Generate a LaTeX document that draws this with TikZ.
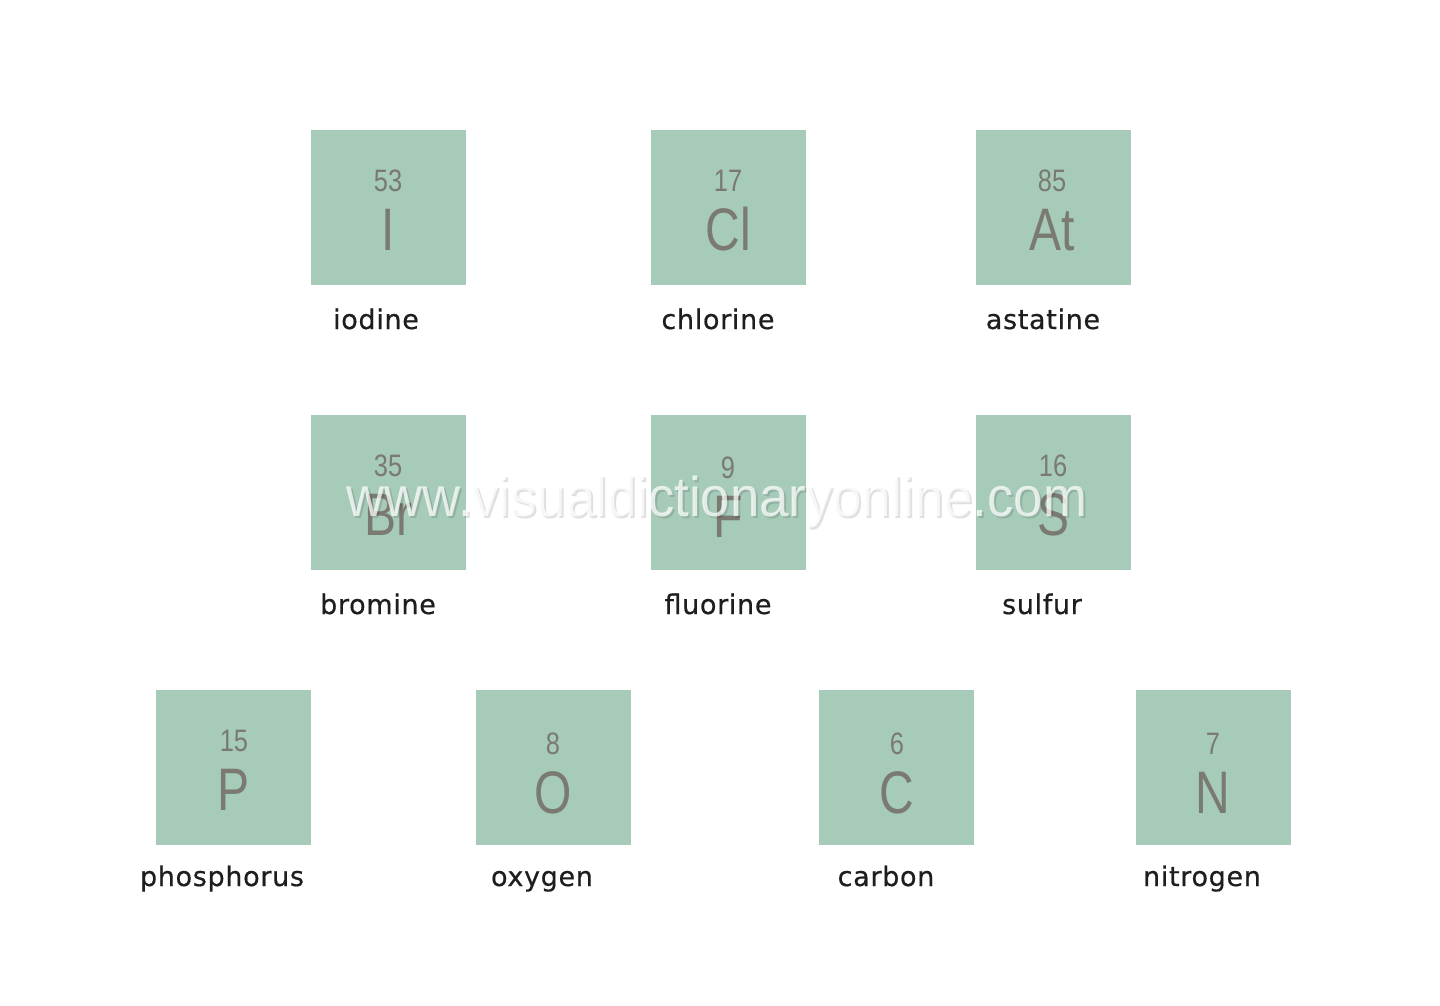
\documentclass[tikz,border=0pt]{standalone}
\usepackage{fontspec}
\setmainfont{DejaVu Sans}
\newfontfamily\labelfont[LetterSpace=2.5,FakeBold=0.5]{DejaVu Sans}
\newfontfamily\symfont{Liberation Sans}
\definecolor{boxgreen}{HTML}{A6CBB8}
\definecolor{symgray}{HTML}{7A7A72}
\definecolor{labelgray}{HTML}{1E1E1E}
\begin{document}
\begin{tikzpicture}[x=1pt,y=-1pt,
  elembox/.style={fill=boxgreen,draw=none,minimum width=155pt,minimum height=155pt,inner sep=0pt},
  elemnum/.style={text=symgray,font=\symfont\fontsize{31}{31}\selectfont,xscale=0.82,anchor=base},
  elemsym/.style={text=symgray,font=\symfont\fontsize{60}{60}\selectfont,xscale=0.8,anchor=base},
  elemlabel/.style={text=labelgray,font=\labelfont\fontsize{27}{27}\selectfont,anchor=base},
  wmark/.style={font=\symfont\fontsize{56}{56}\selectfont,xscale=0.94,anchor=base}]
\useasboundingbox[fill=white] (0,0) rectangle (1440,1005);
% row 1
\node[elembox] (bI) at (388.5,207.5) {};
\node[elembox] (bCl) at (728.5,207.5) {};
\node[elembox] (bAt) at (1053.5,207.5) {};
% row 2
\node[elembox] (bBr) at (388.5,492.5) {};
\node[elembox] (bF) at (728.5,492.5) {};
\node[elembox] (bS) at (1053.5,492.5) {};
% row 3
\node[elembox] (bP) at (233.5,767.5) {};
\node[elembox] (bO) at (553.5,767.5) {};
\node[elembox] (bC) at (896.5,767.5) {};
\node[elembox] (bN) at (1213.5,767.5) {};
% numbers and symbols
\node[elemnum] (nI) at (388,191) {53};
\node[elemsym] (sI) at (388,250) {I};
\node[elemnum] (nCl) at (728,191) {17};
\node[elemsym] (sCl) at (728,250) {Cl};
\node[elemnum] (nAt) at (1052,191) {85};
\node[elemsym] (sAt) at (1052,250) {At};
\node[elemnum] (nBr) at (388,476) {35};
\node[elemsym] (sBr) at (388,535) {Br};
\node[elemnum] (nF) at (728,478) {9};
\node[elemsym] (sF) at (728,537) {F};
\node[elemnum] (nS) at (1053,476) {16};
\node[elemsym] (sS) at (1053,535) {S};
\node[elemnum] (nP) at (234,751) {15};
\node[elemsym] (sP) at (234,810) {P};
\node[elemnum] (nO) at (553,754) {8};
\node[elemsym] (sO) at (553,813) {O};
\node[elemnum] (nC) at (897,754) {6};
\node[elemsym] (sC) at (897,813) {C};
\node[elemnum] (nN) at (1213,754) {7};
\node[elemsym] (sN) at (1213,813) {N};
% labels
\node[elemlabel] (lI) at (376,329) {iodine};
\node[elemlabel] (lCl) at (718,329) {chlorine};
\node[elemlabel] (lAt) at (1043,329) {astatine};
\node[elemlabel] (lBr) at (378,614) {bromine};
\node[elemlabel] (lF) at (718,614) {fluorine};
\node[elemlabel] (lS) at (1042,614) {sulfur};
\node[elemlabel] (lP) at (222,886) {phosphorus};
\node[elemlabel] (lO) at (542,886) {oxygen};
\node[elemlabel] (lC) at (886,886) {carbon};
\node[elemlabel] (lN) at (1202,886) {nitrogen};
% watermark
\node[wmark,text=black,opacity=0.12] (wmshadow) at (719,518) {www.visualdictionaryonline.com};
\node[wmark,text=white,opacity=0.75] (wm) at (717,516) {www.visualdictionaryonline.com};
\end{tikzpicture}
\end{document}
